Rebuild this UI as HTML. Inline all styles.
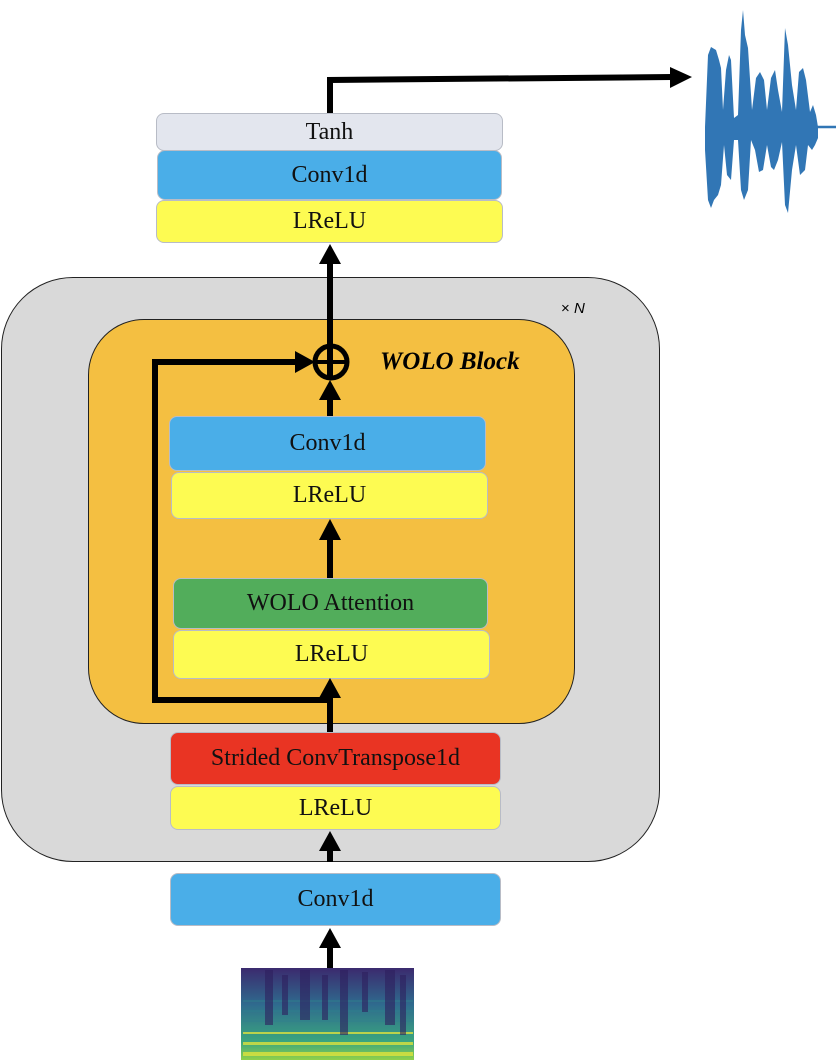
<!DOCTYPE html>
<html><head><meta charset="utf-8"><style>
html,body{margin:0;padding:0;background:#fff;}
body{width:836px;height:1060px;position:relative;overflow:hidden;font-family:"Liberation Serif",serif;}
.b{position:absolute;box-sizing:border-box;border:1.5px solid #b8bcc6;border-radius:8px;display:flex;align-items:center;justify-content:center;font-size:24px;color:#111;}
.bl{background:#4aaee8;} .y{background:#fdfb52;} .g{background:#52ad5b;} .r{background:#e93423;}
</style></head><body>
<div style="position:absolute;left:1px;top:277px;width:659px;height:585px;background:#d9d9d9;border:1.5px solid #222;border-radius:72px;box-sizing:border-box;"></div>
<div style="position:absolute;left:561px;top:300px;font-family:'Liberation Sans',sans-serif;font-size:15px;"><span>×</span> <i>N</i></div>
<div style="position:absolute;left:88px;top:319px;width:487px;height:405px;background:#f4bf41;border:1.5px solid #222;border-radius:56px;box-sizing:border-box;"></div>
<div style="position:absolute;left:380px;top:348px;font-size:25px;font-weight:bold;font-style:italic;">WOLO Block</div>

<div class="b" style="left:156px;top:113px;width:347px;height:38px;background:#e3e6ee;">Tanh</div>
<div class="b bl" style="left:157px;top:150px;width:345px;height:50px;">Conv1d</div>
<div class="b y" style="left:156px;top:200px;width:347px;height:43px;">LReLU</div>

<div class="b bl" style="left:169px;top:416px;width:317px;height:55px;">Conv1d</div>
<div class="b y" style="left:171px;top:472px;width:317px;height:47px;">LReLU</div>
<div class="b g" style="left:173px;top:578px;width:315px;height:51px;">WOLO Attention</div>
<div class="b y" style="left:173px;top:630px;width:317px;height:49px;">LReLU</div>
<div class="b r" style="left:170px;top:732px;width:331px;height:53px;">Strided ConvTranspose1d</div>
<div class="b y" style="left:170px;top:786px;width:331px;height:44px;">LReLU</div>
<div class="b bl" style="left:170px;top:873px;width:331px;height:53px;">Conv1d</div>

<svg width="836" height="1060" style="position:absolute;left:0;top:0;">
<defs>
<linearGradient id="sp" x1="0" y1="0" x2="0" y2="1">
<stop offset="0" stop-color="#3b2a6e"/><stop offset="0.4" stop-color="#2f6b8e"/><stop offset="0.8" stop-color="#3aa57f"/><stop offset="1" stop-color="#8fd14a"/></linearGradient>
</defs>
<g stroke="#000" stroke-width="6" fill="none">
<line x1="330" y1="968" x2="330" y2="944"/>
<line x1="330" y1="862" x2="330" y2="848"/>
<line x1="330" y1="732" x2="330" y2="696"/>
<polyline points="330,700 155,700 155,362 300,362"/>
<line x1="330" y1="578" x2="330" y2="538"/>
<line x1="330" y1="416" x2="330" y2="398"/>
<line x1="330" y1="378" x2="330" y2="262"/>
<polyline points="330,113 330,80 672,77"/>
<circle cx="331" cy="362" r="16" stroke-width="5"/>
<line x1="315" y1="362" x2="347" y2="362" stroke-width="4"/>
</g>
<g fill="#000">
<polygon points="330,928 319,948 341,948"/>
<polygon points="330,831 319,851 341,851"/>
<polygon points="330,678 319,698 341,698"/>
<polygon points="315,362 295,351 295,373"/>
<polygon points="330,519 319,540 341,540"/>
<polygon points="330,380 319,400 341,400"/>
<polygon points="330,244 319,264 341,264"/>
<polygon points="692,77 670,67 670,88"/>
</g>
<rect x="241" y="968" width="173" height="92" fill="url(#sp)"/>
<g fill="#e6e63a" opacity="0.75">
<rect x="243" y="1052" width="170" height="4"/><rect x="243" y="1042" width="170" height="3"/><rect x="243" y="1032" width="170" height="2"/>
</g>
<g fill="#2f7f8e" opacity="0.5">
<rect x="243" y="1000" width="170" height="2"/><rect x="243" y="1010" width="170" height="2"/><rect x="243" y="1020" width="170" height="2"/>
</g>
<g fill="#2e1f5e" opacity="0.6">
<rect x="265" y="970" width="8" height="55"/><rect x="282" y="975" width="6" height="40"/><rect x="300" y="970" width="10" height="50"/><rect x="322" y="975" width="6" height="45"/><rect x="340" y="970" width="8" height="65"/><rect x="362" y="972" width="6" height="40"/><rect x="385" y="970" width="10" height="55"/><rect x="400" y="975" width="6" height="60"/>
</g>
<polygon fill="#3176b5" points="705,127 708,55 711,47 716,50 719,60 721,68 723,110 726,70 729,55 731,60 734,118 738,115 741,30 743,10 745,35 748,48 752,110 756,78 760,72 764,80 767,110 771,78 775,70 778,90 782,112 785,28 788,45 792,85 796,110 799,72 803,68 806,80 810,112 813,105 816,115 818,127 818,138 815,145 812,150 808,145 805,170 800,175 796,145 792,170 788,213 785,205 782,142 778,160 774,170 771,167 767,145 763,170 759,172 755,150 751,140 748,190 744,200 741,190 738,140 734,140 731,180 727,175 724,145 721,185 718,195 714,200 711,208 708,200 705,150"/>
<line x1="810" y1="127" x2="836" y2="127" stroke="#3176b5" stroke-width="2.5"/>
</svg>
</body></html>
